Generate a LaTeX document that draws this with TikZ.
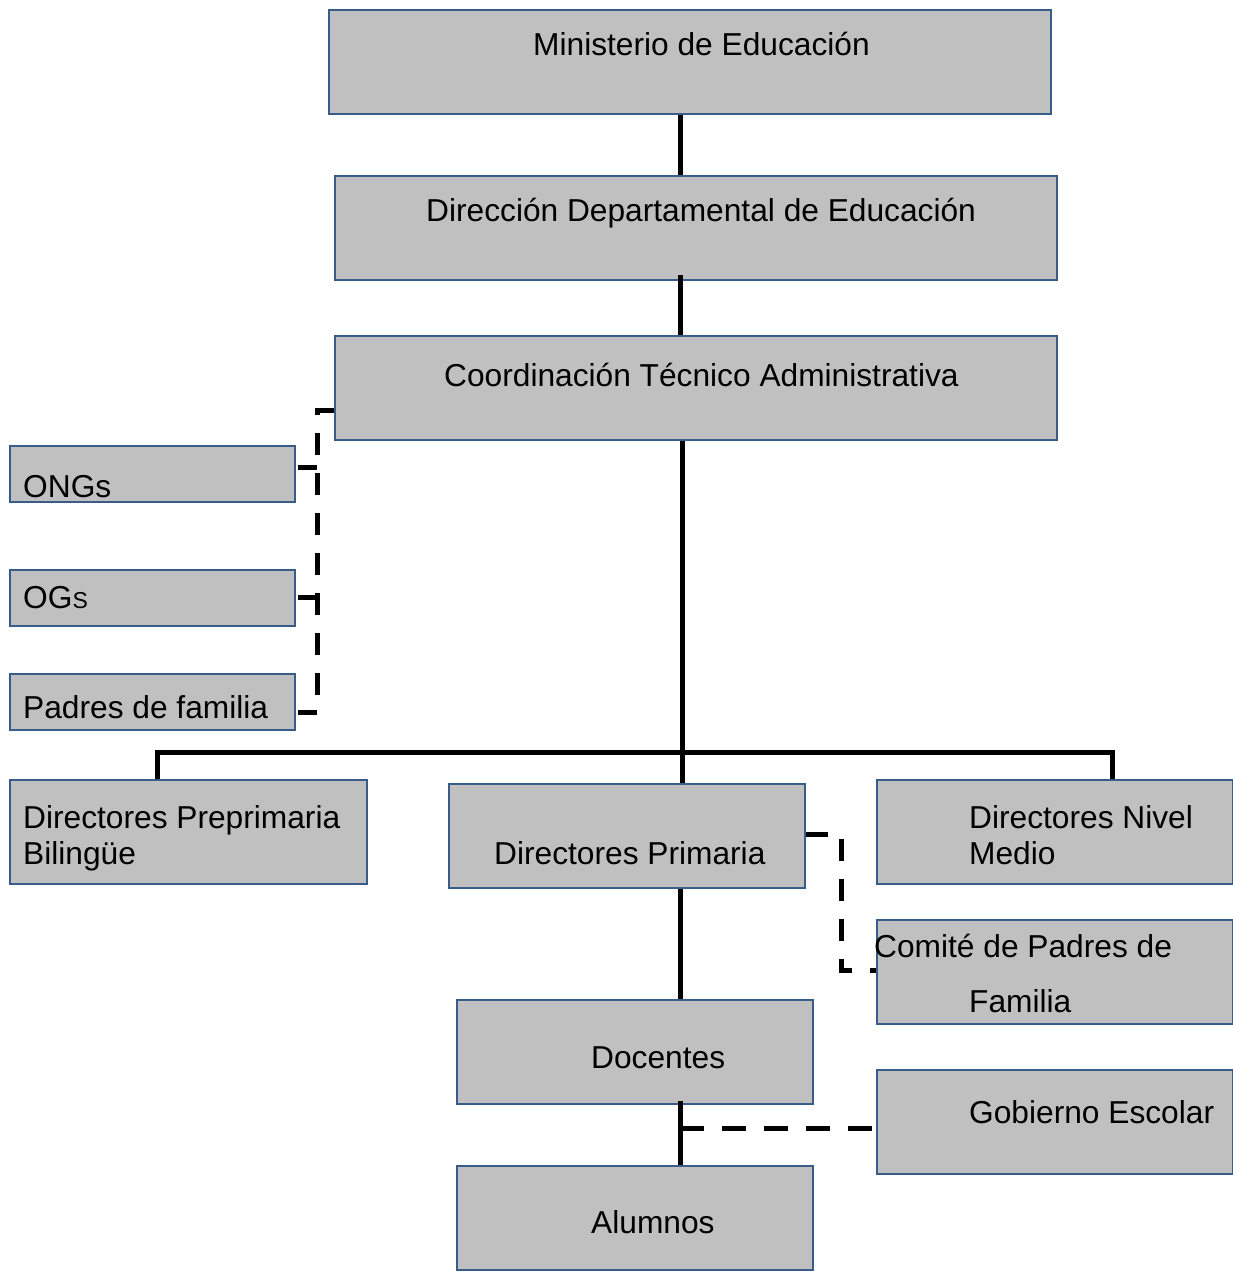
\documentclass[tikz,border=0pt]{standalone}
\usepackage{fontspec}
\setmainfont{Liberation Sans}
\begin{document}
\begin{tikzpicture}[x=1pt,y=-1pt,
  box/.style={draw=boxblue,fill=boxgray,line width=2pt,inner sep=0pt,anchor=north west},
  txt/.style={anchor=base west,inner sep=0pt,font=\fontsize{31.7}{36}\selectfont},
  solidline/.style={line width=5pt,black},
  dashline/.style={line width=5pt,black,dash pattern=on 22pt off 18pt}]
\definecolor{boxgray}{HTML}{C0C0C0}
\definecolor{boxblue}{HTML}{385D8A}
\useasboundingbox (0,0) rectangle (1233,1278);
% boxes
\node[box,minimum width=722pt,minimum height=104pt] (min) at (328,9) {};
\node[box,minimum width=722pt,minimum height=104pt] (dir) at (334,175) {};
\node[box,minimum width=722pt,minimum height=104pt] (cta) at (334,335) {};
\node[box,minimum width=285pt,minimum height=56pt] (ong) at (9,445) {};
\node[box,minimum width=285pt,minimum height=56pt] (og) at (9,569) {};
\node[box,minimum width=285pt,minimum height=56pt] (pad) at (9,673) {};
\node[box,minimum width=357pt,minimum height=104pt] (pre) at (9,779) {};
\node[box,minimum width=356pt,minimum height=104pt] (pri) at (448,783) {};
\node[box,minimum width=356pt,minimum height=104pt] (med) at (876,779) {};
\node[box,minimum width=356pt,minimum height=104pt] (com) at (876,919) {};
\node[box,minimum width=356pt,minimum height=104pt] (doc) at (456,999) {};
\node[box,minimum width=356pt,minimum height=104pt] (gob) at (876,1069) {};
\node[box,minimum width=356pt,minimum height=104pt] (alu) at (456,1165) {};
% texts
\node[txt] (tmin) at (533,55) {Ministerio de Educación};
\node[txt] (tdir) at (426,221) {Dirección Departamental de Educación};
\node[txt] (tcta) at (444,386) {Coordinación Técnico Administrativa};
\node[txt] (tong) at (23,497) {ONGs};
\node[txt] (tog) at (23,608) {OG{\fontsize{23}{23}\selectfont S}};
\node[txt] (tpad) at (23,718) {Padres de familia};
\node[txt] (tpre1) at (23,828) {Directores Preprimaria};
\node[txt] (tpre2) at (23,864) {Bilingüe};
\node[txt] (tpri) at (494,864) {Directores Primaria};
\node[txt] (tmed1) at (969,828) {Directores Nivel};
\node[txt] (tmed2) at (969,864) {Medio};
\node[txt] (tcom1) at (874,957) {Comité de Padres de};
\node[txt] (tcom2) at (969,1012) {Familia};
\node[txt] (tdoc) at (591,1068) {Docentes};
\node[txt] (tgob) at (969,1123) {Gobierno Escolar};
\node[txt] (talu) at (591,1233) {Alumnos};
% helper coordinates
\coordinate (tx) at (680,0);
\coordinate (tx2) at (682,0);
\coordinate (bus) at (0,752);
\coordinate (busl) at (157,0);
\coordinate (busr) at (1112,0);
\coordinate (lx) at (317,0);
\coordinate (lt) at (298,0);
\coordinate (cy) at (0,410);
\coordinate (ongy) at (0,467);
\coordinate (ogy) at (0,597);
\coordinate (pady) at (0,712);
\coordinate (rx) at (841,0);
\coordinate (ry) at (0,834);
\coordinate (cmy) at (0,970);
\coordinate (gy) at (0,1128);
% solid connectors
\draw[solidline] (tx |- min.south) -- (tx |- dir.north);
\draw[solidline] (tx |- dir.south) ++(0,-6) -- (tx |- cta.north);
\draw[solidline] (tx2 |- cta.south) -- (tx2 |- pri.north);
\draw[solidline] (busl |- pre.north) -- (busl |- bus) -- (busr |- bus) -- (busr |- med.north);
\draw[solidline] (tx |- pri.south) -- (tx |- doc.north);
\draw[solidline] (tx |- doc.south) ++(0,-4) -- (tx |- alu.north);
% dashed connectors
\draw[dashline] (cta.west |- cy) -- (lx |- cy) -- (lx |- pady);
\draw[solidline] (lt |- ongy) -- (lx |- ongy);
\draw[solidline] (lt |- ogy) -- (lx |- ogy);
\draw[solidline] (lt |- pady) -- (lx |- pady);
\draw[dashline] (pri.east |- ry) -- (rx |- ry) -- (rx |- cmy) -- (com.west |- cmy);
\draw[dashline,dash pattern=on 24pt off 18pt] (tx |- gy) -- (gob.west |- gy);
\end{tikzpicture}
\end{document}
